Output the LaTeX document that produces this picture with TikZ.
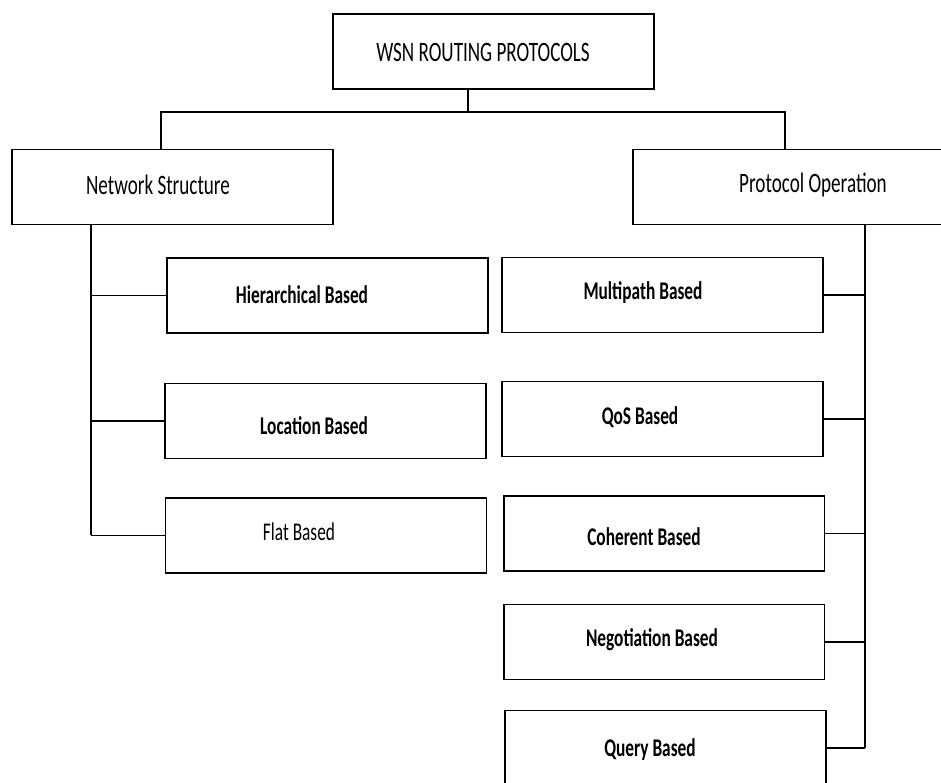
\documentclass[tikz,border=0pt]{standalone}
\usepackage{fontspec}
\usepackage{tikz}
\newfontfamily\boxfont{Carlito}[FakeStretch=0.68]

\tikzset{
    box/.style={draw, line width=1.1pt, minimum width=6.42cm, minimum height=1.5cm, inner sep=0pt},
    head/.style={font=\boxfont\fontsize{16}{19}\selectfont},
    kind/.style={font=\boxfont\bfseries\fontsize{14.5}{17}\selectfont},
    link/.style={line width=0.8pt}
}

\begin{document}
\begin{tikzpicture}[x=0.02cm, y=-0.02cm]
                \clip (0,0) rectangle (941,783);
                % Draw the root and the two classes
                \node[box] (root) at (493.5,51.5) {};
                \node[head] (roottext) at (483,52) {WSN ROUTING PROTOCOLS};
                \node[box] (ns) at (172.5,187) {};
                \node[head] (nstext) at (158,185) {Network Structure};
                \node[box, minimum width=6.54cm] (po) at (796.5,187) {};
                \node[head] (potext) at (813,185) {Protocol Operation};
                % Draw the network structure kinds
                \node[box] (hb) at (327.5,295.5) {};
                \node[kind] (hbtext) at (302,295) {Hierarchical Based};
                \node[box] (lb) at (325.5,421) {};
                \node[kind] (lbtext) at (314,426) {Location Based};
                \node[box] (fb) at (326,535.5) {};
                \node[kind, font=\boxfont\fontsize{14.5}{17}\selectfont] (fbtext) at (299,532) {Flat Based};
                % Draw the protocol operation kinds
                \node[box] (mb) at (662.5,295) {};
                \node[kind] (mbtext) at (643,293) {Multipath Based};
                \node[box] (qos) at (662.5,419) {};
                \node[kind] (qostext) at (640,417) {QoS Based};
                \node[box] (cb) at (664,533.5) {};
                \node[kind] (cbtext) at (644,537) {Coherent Based};
                \node[box] (nb) at (664,642) {};
                \node[kind] (nbtext) at (652,640) {Negotiation Based};
                \node[box] (qb) at (665.5,748) {};
                \node[kind] (qbtext) at (650,750) {Query Based};
                % Draw the bus below the root
                \coordinate (busL) at (161,112);
                \coordinate (busM) at (468,112);
                \coordinate (busR) at (785,112);
                \draw[link] (busM |- root.south) -- (busM);
                \draw[link] (busL |- ns.north) -- (busL) -- (busR) -- (busR |- po.north);
                % Draw the two trunks
                \coordinate (trL) at (91,0);
                \coordinate (trR) at (865,0);
                \draw[link] (trL |- ns.south) -- (trL |- fb.west);
                \foreach \n in {hb,lb,fb} {
                    \draw[link] (trL |- \n.west) -- (\n.west);
                }
                \draw[link] (trR |- po.south) -- (trR |- qb.east);
                \foreach \n in {mb,qos,cb,nb,qb} {
                    \draw[link] (\n.east) -- (trR |- \n.east);
                }
            \end{tikzpicture}
\end{document}
